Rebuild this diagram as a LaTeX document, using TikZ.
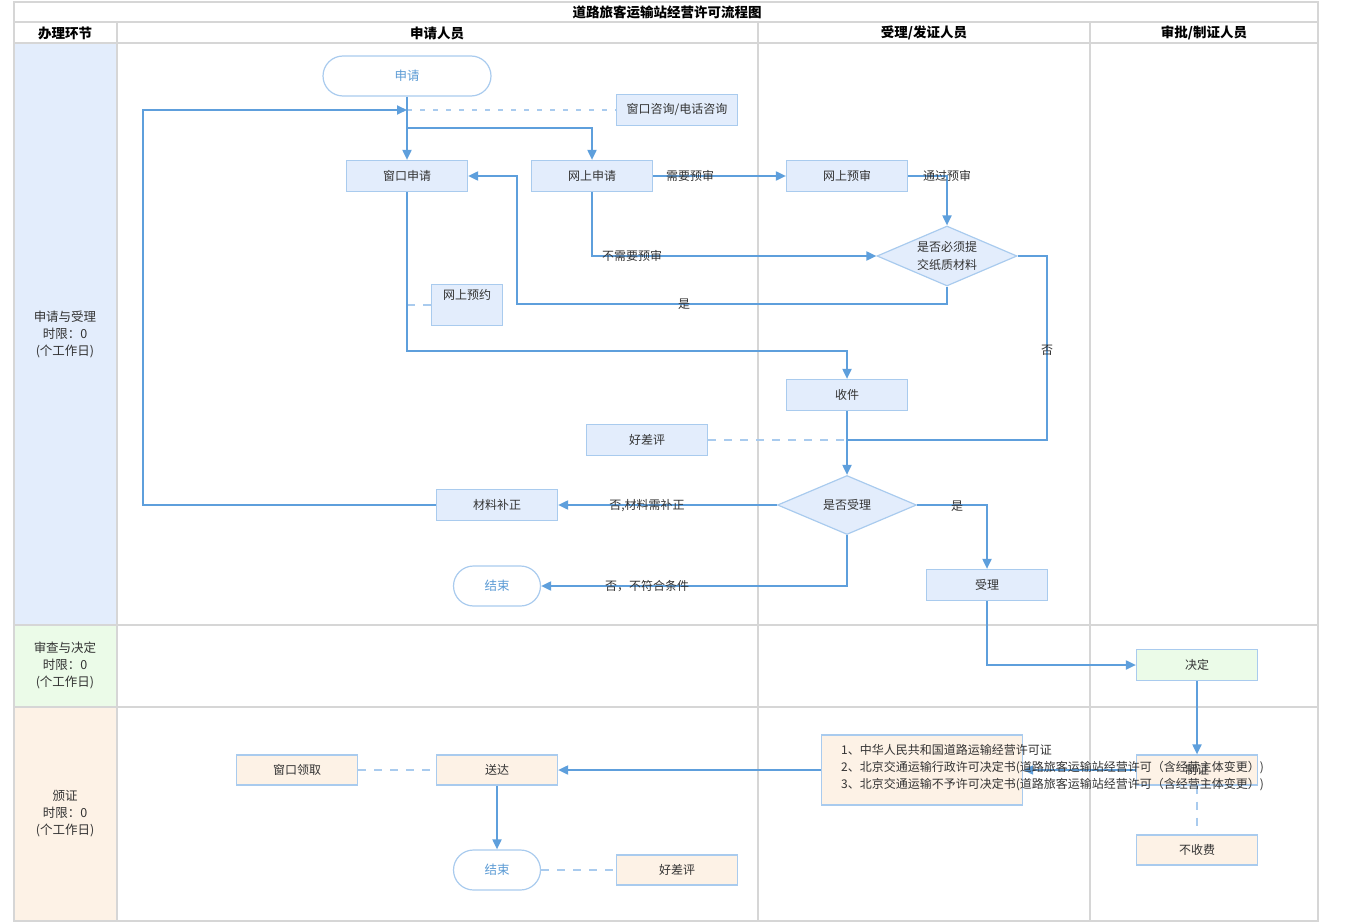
\documentclass[tikz,border=0pt]{standalone}
\usepackage{fontspec}
\setmainfont{Noto Sans CJK SC}
\usetikzlibrary{arrows.meta,shapes.geometric}
\definecolor{gridc}{HTML}{D6D6D6}
\definecolor{flowc}{HTML}{5E9FDC}
\definecolor{bline}{HTML}{A9CBEE}
\definecolor{bfill}{HTML}{E3EDFC}
\definecolor{ofill}{HTML}{FDF2E6}
\definecolor{gfill}{HTML}{EBFBE8}
\definecolor{txt}{HTML}{333333}
\definecolor{stxt}{HTML}{5B9BD5}
\newcommand\myfs[2]{\fontsize{#1}{#2}\selectfont}
\begin{document}
\begin{tikzpicture}[x=1pt,y=-1pt,
 box/.style={draw=bline,fill=bfill,line width=1.2pt,minimum width=121pt,minimum height=31pt,inner sep=0pt,text=txt,font=\myfs{12}{14}},
 obox/.style={box,fill=ofill},
 gbox/.style={box,fill=gfill},
 term/.style={draw=bline,fill=white,line width=1.2pt,rounded corners=20pt,minimum height=40pt,inner sep=0pt,text=stxt,font=\myfs{12.5}{14}},
 dec/.style={diamond,aspect=2.33,draw=bline,fill=bfill,line width=1.2pt,minimum width=140pt,minimum height=60pt,inner sep=0pt,text=txt,font=\myfs{12}{18},align=center},
 arr/.style={draw=flowc,line width=1.9pt,-{Triangle[length=10pt,width=9pt]}},
 ln/.style={draw=flowc,line width=1.9pt},
 dsh/.style={draw=bline,line width=1.6pt,dash pattern=on 8pt off 8pt},
 lbl/.style={text=txt,font=\myfs{12}{14},inner sep=0pt},
 lane/.style={text=txt,font=\myfs{12.5}{17},align=center},
 hdr/.style={text=black,font=\bfseries\myfs{13.5}{14}},
 gridl/.style={draw=gridc,line width=1.8pt}]
\useasboundingbox (0,0) rectangle (1350,923);
% lane fills
\fill[bfill] (14,43) rectangle (117,625);
\fill[gfill] (14,625) rectangle (117,707);
\fill[ofill] (14,707) rectangle (117,921);
% grid
\draw[gridl] (14,2) rectangle (1318,921);
\draw[gridl] (14,22) -- (1318,22);
\draw[gridl] (14,43) -- (1318,43);
\draw[gridl] (14,625) -- (1318,625);
\draw[gridl] (14,707) -- (1318,707);
\draw[gridl] (117,22) -- (117,921);
\draw[gridl] (758,22) -- (758,921);
\draw[gridl] (1090,22) -- (1090,921);
% headers
\node[hdr] (title) at (667,12) {道路旅客运输站经营许可流程图};
\node[hdr] (h1) at (65,33) {办理环节};
\node[hdr] (h2) at (437,33) {申请人员};
\node[hdr] (h3) at (924,33) {受理/发证人员};
\node[hdr] (h4) at (1204,33) {审批/制证人员};
\node[lane] (l1) at (65,334) {申请与受理\\时限：0\\(个工作日)};
\node[lane] (l2) at (65,665) {审查与决定\\时限：0\\(个工作日)};
\node[lane] (l3) at (65,814) {颁证\\时限：0\\(个工作日)};
% nodes
\node[term,minimum width=168pt] (sq) at (407,76) {申请};
\node[box] (zx) at (677,110) {窗口咨询/电话咨询};
\node[box] (ck) at (407,176) {窗口申请};
\node[box] (wssq) at (592,176) {网上申请};
\node[box] (wsys) at (847,176) {网上预审};
\node[dec] (d1) at (947,256) {是否必须提\\交纸质材料};
\node[box,minimum width=71pt,minimum height=41pt,label={[lbl,anchor=north,yshift=-5pt]north:网上预约}] (wsyy) at (467,305) {};
\node[box] (sj) at (847,395) {收件};
\node[box] (hcp) at (647,440) {好差评};
\node[dec,minimum width=139pt,minimum height=59pt] (d2) at (847,505) {是否受理};
\node[box] (clbz) at (497,505) {材料补正};
\node[term,minimum width=87pt] (js1) at (497,586) {结束};
\node[box] (sl) at (987,585) {受理};
\node[gbox] (jd) at (1197,665) {决定};
\node[obox,minimum height=30pt] (zz) at (1197,770) {制证};
\node[obox,minimum width=201pt,minimum height=70pt] (doc) at (922,770) {};
\node[obox,minimum height=30pt] (sd) at (497,770) {送达};
\node[obox,minimum height=30pt] (cklq) at (297,770) {窗口领取};
\node[term,minimum width=87pt] (js2) at (497,870) {结束};
\node[obox,minimum height=30pt] (hcp2) at (677,870) {好差评};
\node[obox,minimum height=30pt] (bsf) at (1197,850) {不收费};
% coordinates
\coordinate (j1) at (407,110);
\coordinate (j2) at (407,128);
\coordinate (lb) at (143,505);
\coordinate (c3) at (517,304);
\coordinate (c4) at (1047,440);
\coordinate (c5) at (847,440);
\coordinate (c6) at (407,351);
\coordinate (c7) at (407,305);
% connectors
\draw[dsh,dash pattern=on 5pt off 8pt] (j1) -- (zx.west);
\draw[arr] (sq.south) -- (ck.north);
\draw[arr] (j2) -| (wssq.north);
\draw[arr] (clbz.west) -- (lb) |- (j1);
\draw[arr] (wssq.east) -- (wsys.west);
\draw[arr] (wsys.east) -| (d1.north);
\draw[arr] (wssq.south) |- (d1.west);
\draw[arr] (d1.south) |- (c3) |- (ck.east);
\draw[ln] (d1.east) -| (c4) -- (c5);
\draw[dsh] (c7) -- (wsyy.west);
\draw[arr] (ck.south) -- (c6) -| (sj.north);
\draw[dsh] (hcp.east) -- (c5);
\draw[arr] (sj.south) -- (d2.north);
\draw[arr] (d2.west) -- (clbz.east);
\draw[arr] (d2.south) |- (js1.east);
\draw[arr] (d2.east) -| (sl.north);
\draw[arr] (sl.south) |- (jd.west);
\draw[arr] (jd.south) -- (zz.north);
\draw[arr] (zz.west) -- (doc.east);
\draw[arr] (doc.west) -- (sd.east);
\draw[dsh] (cklq.east) -- (sd.west);
\draw[arr] (sd.south) -- (js2.north);
\draw[dsh] (js2.east) -- (hcp2.west);
\draw[dsh] (zz.south) -- (bsf.north);
% labels on connectors
\node[lbl] (t1) at (690,176) {需要预审};
\node[lbl] (t2) at (947,176) {通过预审};
\node[lbl] (t3) at (632,256) {不需要预审};
\node[lbl] (t4) at (684,304) {是};
\node[lbl] (t5) at (1047,350) {否};
\node[lbl] (t6) at (647,506) {否,材料需补正};
\node[lbl] (t7) at (647,586) {否，不符合条件};
\node[lbl] (t8) at (957,506) {是};
% document text
\node[lbl,anchor=north west,align=left,font=\myfs{12}{17}] (doctext) at (841,744) {1、中华人民共和国道路运输经营许可证\\2、北京交通运输行政许可决定书(道路旅客运输站经营许可（含经营主体变更）)\\3、北京交通运输不予许可决定书(道路旅客运输站经营许可（含经营主体变更）)};
\end{tikzpicture}
\end{document}
